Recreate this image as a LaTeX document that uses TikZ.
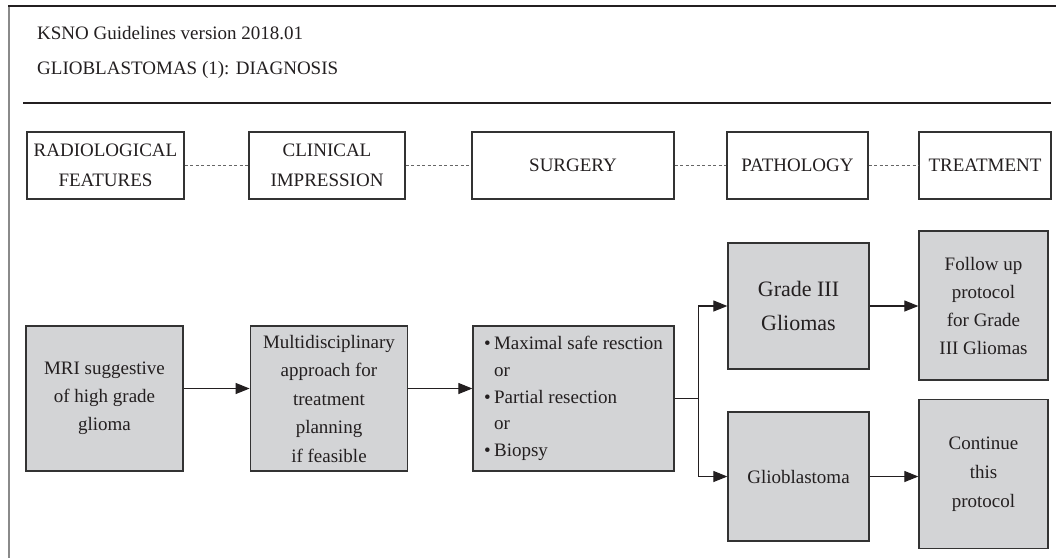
\documentclass[tikz,border=0pt]{standalone}
\usepackage{fontspec}
\setmainfont{Liberation Serif}
\usetikzlibrary{arrows.meta}
\definecolor{boxfill}{HTML}{D3D4D6}
\definecolor{ink}{HTML}{231F20}
\definecolor{edge}{HTML}{333333}
\definecolor{framegray}{HTML}{8A8A8A}
\definecolor{dotgray}{HTML}{666666}
\newcommand{\bul}{\makebox[10pt][l]{\textbullet}}
\newcommand{\nobul}{\makebox[10pt][l]{}}
\begin{document}
\begin{tikzpicture}[x=1pt,y=-1pt,
  every node/.style={text=ink},
  stage/.style={draw=edge, line width=1.2pt, fill=white, inner sep=0pt, align=center,
    font=\fontsize{19}{30}\selectfont},
  gbox/.style={draw=edge, line width=1.3pt, fill=boxfill, inner sep=0pt, align=center,
    font=\fontsize{19}{28}\selectfont},
  dotline/.style={draw=dotgray, line width=1.3pt, dash pattern=on 3pt off 2.5pt},
  arr/.style={draw=ink, line width=1.1pt, -{Triangle[length=14pt,width=11pt]}},
  plain/.style={draw=ink, line width=1.1pt}
]
\useasboundingbox (0,0) rectangle (1056,558);
\fill[white] (0,0) rectangle (1056,558);

% frame
\draw[framegray, line width=2.2pt] (9,5) -- (9,558);
\draw[ink, line width=1.2pt] (8,6) -- (1056,6);
\draw[ink, line width=1.2pt] (23,103) -- (1051,103);

% header
\node[anchor=base west, inner sep=0pt, font=\fontsize{19}{23}\selectfont] (t1) at (37,39) {KSNO Guidelines version 2018.01};
\node[anchor=base west, inner sep=0pt, font=\fontsize{19}{23}\selectfont] (t2) at (37,74) {GLIOBLASTOMAS (1): DIAGNOSIS};

% stage boxes
\node[stage, minimum width=157pt, minimum height=67pt] (rad) at (105.5,165.5) {RADIOLOGICAL\\FEATURES};
\node[stage, minimum width=156pt, minimum height=67pt] (cli) at (327,165.5) {CLINICAL\\IMPRESSION};
\node[stage, minimum width=202pt, minimum height=67pt] (sur) at (573,165.5) {SURGERY};
\node[stage, minimum width=141pt, minimum height=67pt] (pat) at (797.5,165.5) {PATHOLOGY};
\node[stage, minimum width=132pt, minimum height=67pt] (tre) at (985,165.5) {TREATMENT};

\draw[dotline] (rad.east) -- (cli.west);
\draw[dotline] (cli.east) -- (sur.west);
\draw[dotline] (sur.east) -- (pat.west);
\draw[dotline] (pat.east) -- (tre.west);

% flow boxes
\node[gbox, minimum width=157pt, minimum height=145pt] (mri) at (104.5,398.5) {MRI suggestive\\of high grade\\glioma};
\node[gbox, minimum width=157.5pt, minimum height=145pt, font=\fontsize{19}{28.5}\selectfont] (multi) at (329,398.5) {Multidisciplinary\\approach for\\treatment\\planning\\if feasible};
\node[gbox, minimum width=201pt, minimum height=145pt, align=left, font=\fontsize{19}{26.6}\selectfont] (opt) at (573.5,398.5)
  {\bul Maximal safe resction\\\nobul or\\\bul Partial resection\\\nobul or\\\bul Biopsy};
\node[gbox, minimum width=141pt, minimum height=126pt, font=\fontsize{22}{34}\selectfont] (gr3) at (798.5,306) {Grade III\\Gliomas};
\node[gbox, minimum width=141pt, minimum height=129pt] (glio) at (798.5,476.5) {Glioblastoma};
\node[gbox, minimum width=129pt, minimum height=149pt] (fol) at (983.5,305.5) {Follow up\\protocol\\for Grade\\III Gliomas};
\node[gbox, minimum width=129pt, minimum height=149pt, font=\fontsize{19}{29}\selectfont] (cont) at (983.5,474) {Continue\\this\\protocol};

% connectors
\draw[arr] ([yshift=10pt]mri.east) -- ([yshift=10pt]multi.west);
\draw[arr] ([yshift=10pt]multi.east) -- ([yshift=10pt]opt.west);
\draw[plain] (opt.east) -- ++(24,0) coordinate (br);
\draw[arr] (br) |- (gr3.west);
\draw[arr] (br) |- (glio.west);
\draw[arr] (gr3.east) -- (gr3.east -| fol.west);
\draw[arr] (glio.east) -- (glio.east -| cont.west);
\end{tikzpicture}
\end{document}
